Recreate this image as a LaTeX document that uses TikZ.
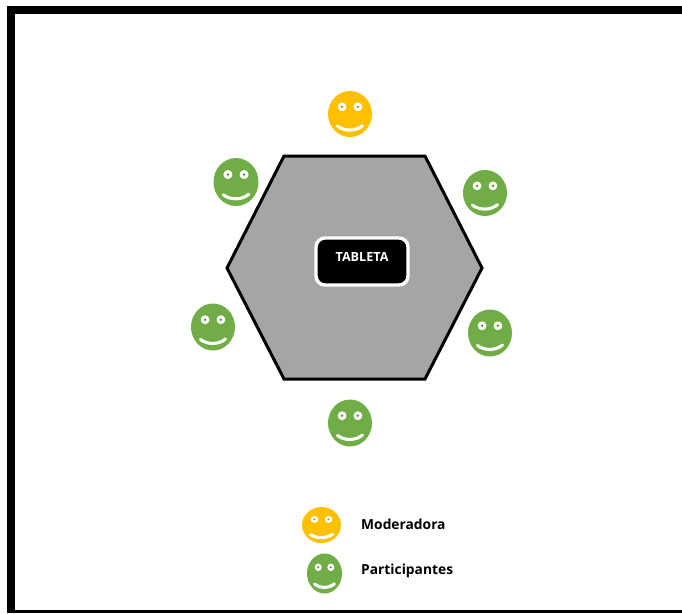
\documentclass[tikz,border=0pt]{standalone}
\usepackage{fontspec}
\setmainfont{Open Sans}
\usetikzlibrary{shapes.geometric}
\definecolor{amber}{HTML}{FFC000}
\definecolor{leaf}{HTML}{70AD47}
\definecolor{hexgray}{HTML}{A5A5A5}
\tikzset{
  x=1pt,y=-1pt,
  hexa/.style={draw=black,line width=3pt,fill=hexgray,line join=miter},
  tablet/.style={draw=white,line width=3.4pt,fill=black,rounded corners=9pt},
  tablabel/.style={text=white,font=\fontsize{12.6}{14}\selectfont\bfseries,inner sep=0pt},
  leglabel/.style={text=black,font=\fontsize{13.8}{16}\selectfont\bfseries,inner sep=0pt,anchor=west},
  facebody/.style={ellipse,inner sep=0pt,outer sep=0pt,draw=none},
}
% name, x, y, rx, ry, colour
\newcommand{\smiley}[6]{%
  \node[facebody,fill=#6,minimum width=#4*2pt,minimum height=#5*2pt] (#1) at (#2,#3) {};
  \begin{scope}[shift={(#2,#3)},x=#4*1pt,y=-#5*1pt]
    \draw[white,line width=3.1pt,line cap=round] (-0.57,0.53) .. controls (-0.25,0.76) and (0.25,0.76) .. (0.57,0.51);
    \foreach \s in {-1,1}{
      \fill[white] (\s*0.36,-0.31) ellipse [x radius=0.2, y radius=0.19];
      \fill[#6!70!black] (\s*0.36,-0.31) ellipse [x radius=0.055, y radius=0.055];
    }
  \end{scope}
}
\begin{document}
\begin{tikzpicture}
\useasboundingbox (0,0) rectangle (682,613);
\fill[white] (0,0) rectangle (682,613);
\fill[black] (7,6) rectangle (682,14);
\fill[black] (7,6) rectangle (15,613);
\fill[black] (7,610) rectangle (682,613);
\draw[hexa] (284,156) -- (425,156) -- (482,268) -- (425,379) -- (284,379) -- (227,268) -- cycle;
\draw[tablet] (316,238) rectangle (408,285);
\node[tablabel] (tab) at (362,257) {TABLETA};
\smiley{mod}{350}{114}{22}{23}{amber}
\smiley{pa}{236}{182}{22.5}{24}{leaf}
\smiley{pb}{485}{193}{22}{23}{leaf}
\smiley{pc}{213}{327}{22}{23.5}{leaf}
\smiley{pd}{490}{333}{22}{23.5}{leaf}
\smiley{pe}{350}{423}{22}{23.5}{leaf}
\smiley{lm}{321.5}{525}{19.5}{18}{amber}
\smiley{lp}{324.5}{573.5}{17.5}{20}{leaf}
\node[leglabel] (lmt) at (361,524) {Moderadora};
\node[leglabel] (lpt) at (361,571) {Participantes};
\end{tikzpicture}
\end{document}
